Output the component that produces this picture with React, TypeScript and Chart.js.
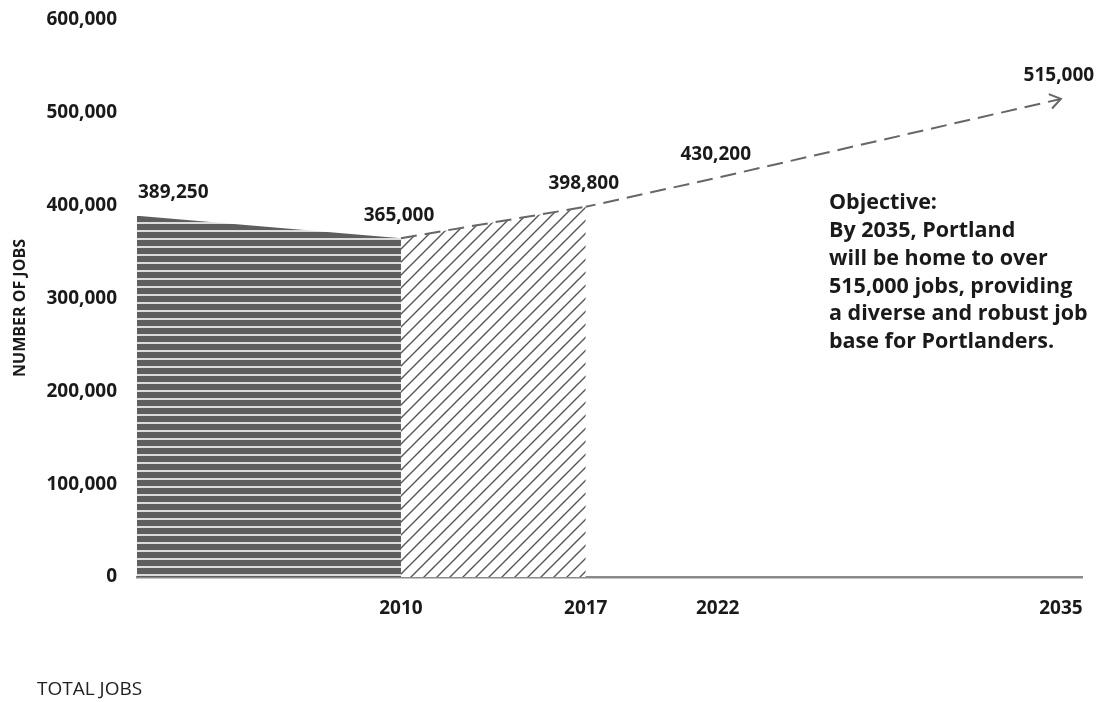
import React, { useEffect, useRef } from "react";
import { Chart, registerables } from "chart.js";

Chart.register(...registerables);

const historyYears = [2000, 2010];
const historyJobs = [389250, 365000];
const recentYears = [2010, 2017];
const recentJobs = [365000, 398800];
const projectionYears = [2017, 2022, 2035];
const projectionJobs = [398800, 430200, 515000];
const labelYears = [2000, 2010, 2017, 2022, 2035];
const labelJobs = [389250, 365000, 398800, 430200, 515000];
const xTickYears = [2010, 2017, 2022, 2035];
const objectiveLines = [
  "Objective:",
  "By 2035, Portland",
  "will be home to over",
  "515,000 jobs, providing",
  "a diverse and robust job",
  "base for Portlanders.",
];
const yTitle = "NUMBER OF JOBS";
const footerText = "TOTAL JOBS";

const FONT = "'Open Sans', 'Noto Sans', sans-serif";

function fmt(v: number) {
  return v.toLocaleString("en-US");
}

function makeStripes(): CanvasPattern | string {
  const c = document.createElement("canvas");
  c.width = 8;
  c.height = 8;
  const g = c.getContext("2d");
  if (!g) return "#5e5e5e";
  g.fillStyle = "#5e5e5e";
  g.fillRect(0, 0, 8, 8);
  g.fillStyle = "#dcdcdc";
  g.fillRect(0, 6, 8, 2);
  return g.createPattern(c, "repeat") as CanvasPattern;
}

function makeHatch(): CanvasPattern | string {
  const s = 13;
  const c = document.createElement("canvas");
  c.width = s;
  c.height = s;
  const g = c.getContext("2d");
  if (!g) return "#fff";
  g.fillStyle = "#ffffff";
  g.fillRect(0, 0, s, s);
  g.strokeStyle = "#555555";
  g.lineWidth = 1.4;
  g.beginPath();
  g.moveTo(-2, s + 2);
  g.lineTo(s + 2, -2);
  g.moveTo(-2, 2);
  g.lineTo(2, -2);
  g.moveTo(s - 2, s + 2);
  g.lineTo(s + 2, s - 2);
  g.stroke();
  return g.createPattern(c, "repeat") as CanvasPattern;
}

const annotations = {
  id: "annotations",
  afterDatasetsDraw(chart: any) {
    const { ctx, scales } = chart;
    const xs = scales.x;
    const ys = scales.y;
    ctx.save();
    // arrowhead at end of projection
    const n = projectionYears.length;
    const x1 = xs.getPixelForValue(projectionYears[n - 2]);
    const y1 = ys.getPixelForValue(projectionJobs[n - 2]);
    const x2 = xs.getPixelForValue(projectionYears[n - 1]);
    const y2 = ys.getPixelForValue(projectionJobs[n - 1]);
    const ang = Math.atan2(y2 - y1, x2 - x1);
    const len = 13;
    ctx.strokeStyle = "#666666";
    ctx.lineWidth = 2;
    ctx.setLineDash([]);
    ctx.beginPath();
    ctx.moveTo(x2 - len * Math.cos(ang - 0.6), y2 - len * Math.sin(ang - 0.6));
    ctx.lineTo(x2, y2);
    ctx.lineTo(x2 - len * Math.cos(ang + 0.6), y2 - len * Math.sin(ang + 0.6));
    ctx.stroke();

    // value labels
    ctx.fillStyle = "#1a1a1a";
    ctx.font = `bold 19px ${FONT}`;
    ctx.textBaseline = "middle";
    labelYears.forEach((yr, i) => {
      const px = xs.getPixelForValue(yr);
      const py = ys.getPixelForValue(labelJobs[i]);
      ctx.textAlign = i === 0 ? "left" : "center";
      ctx.fillText(fmt(labelJobs[i]), i === 0 ? px + 1 : px - 2, py - 23);
    });

    // objective text
    ctx.font = `bold 21.5px ${FONT}`;
    ctx.textAlign = "left";
    objectiveLines.forEach((line, i) => {
      ctx.fillText(line, 829, 203 + i * 27.8);
    });

    // y title
    ctx.save();
    ctx.translate(20, 308);
    ctx.rotate(-Math.PI / 2);
    ctx.textAlign = "center";
    ctx.font = `bold 16px ${FONT}`;
    ctx.fillText(yTitle, 0, 0);
    ctx.restore();

    // footer
    ctx.font = `19px ${FONT}`;
    ctx.textAlign = "left";
    ctx.fillStyle = "#222";
    ctx.fillText(footerText, 37, 690);
    ctx.restore();
  },
};

export default function App() {
  const ref = useRef<HTMLCanvasElement | null>(null);
  useEffect(() => {
    if (!ref.current) return;
    const stripes = makeStripes();
    const hatch = makeHatch();
    const chart = new Chart(ref.current, {
      type: "line",
      data: {
        datasets: [
          {
            data: historyYears.map((x, i) => ({ x, y: historyJobs[i] })),
            fill: "origin",
            backgroundColor: stripes as any,
            borderWidth: 0,
            pointRadius: 0,
          },
          {
            data: recentYears.map((x, i) => ({ x, y: recentJobs[i] })),
            fill: "origin",
            backgroundColor: hatch as any,
            borderColor: "#666666",
            borderWidth: 2,
            borderDash: [16, 8],
            pointRadius: 0,
          },
          {
            data: projectionYears.map((x, i) => ({ x, y: projectionJobs[i] })),
            fill: false,
            borderColor: "#666666",
            borderWidth: 2,
            borderDash: [16, 8],
            borderDashOffset: 6,
            pointRadius: 0,
          },
        ],
      },
      options: {
        animation: false,
        responsive: false,
        maintainAspectRatio: false,
        layout: { padding: { top: 20, right: 17, left: 0, bottom: 0 } },
        plugins: {
          legend: { display: false },
          tooltip: { enabled: false },
          title: { display: false },
        },
        scales: {
          x: {
            type: "linear",
            min: 2000,
            max: 2035.8,
            grid: { display: false, drawTicks: false },
            border: { display: true, color: "#8a8a8a", width: 2.5 },
            afterBuildTicks: (scale: any) => {
              scale.ticks = xTickYears.map((v) => ({ value: v }));
            },
            afterFit: (scale: any) => {
              scale.height = 125;
              scale.paddingLeft = 0;
              scale.paddingRight = 0;
            },
            ticks: {
              autoSkip: false,
              maxRotation: 0,
              padding: 20,
              color: "#1a1a1a",
              font: { family: FONT, size: 19, weight: "bold" },
              callback: (v: any) => String(v),
            },
          },
          y: {
            min: 0,
            max: 600000,
            grid: { display: false, drawTicks: false },
            border: { display: false },
            afterFit: (scale: any) => {
              scale.width = 137;
              scale.paddingTop = 0;
              scale.paddingBottom = 0;
            },
            ticks: {
              stepSize: 100000,
              padding: 20,
              color: "#1a1a1a",
              font: { family: FONT, size: 19, weight: "bold" },
              callback: (v: any) => fmt(Number(v)),
            },
          },
        },
      },
      plugins: [annotations],
    });
    return () => chart.destroy();
  }, []);
  return (
    <div style={{ position: "fixed", left: 0, top: 0, width: 1099, height: 702, background: "#fff" }}>
      <canvas ref={ref} width={1099} height={702} style={{ width: 1099, height: 702 }} />
    </div>
  );
}
